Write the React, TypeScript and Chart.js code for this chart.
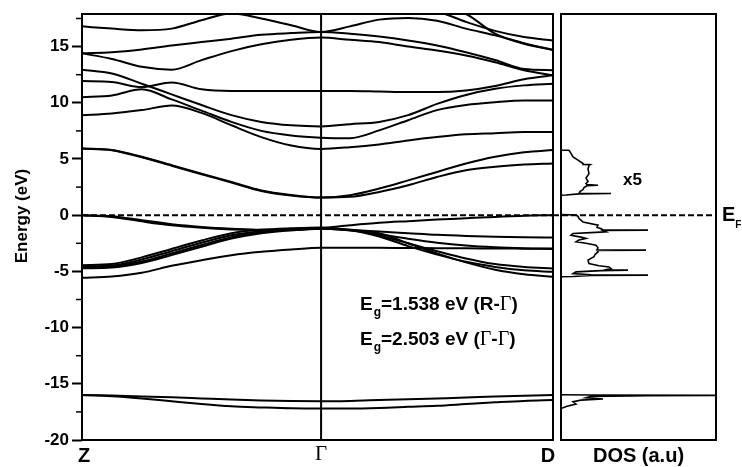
import React, { useEffect, useRef } from "react";
import { Chart, registerables } from "chart.js";

Chart.register(...registerables);

// ---- k-path (Z -> Γ -> D) ----
const K_PATH = [0, 0.125, 0.25, 0.375, 0.5, 0.625, 0.75, 0.875, 1.0, 1.121, 1.243, 1.364, 1.485, 1.606, 1.728, 1.849, 1.97];
const HS_K = [0, 1.0, 1.97];
const HS_LABELS = ["Z", "Γ", "D"];

// ---- energy axis ----
const Y_MIN = -20;
const Y_MAX = 17.9;
const Y_MAJOR = [-20, -15, -10, -5, 0, 5, 10, 15];
const Y_MINOR = [-17.5, -12.5, -7.5, -2.5, 2.5, 7.5, 12.5, 17.5];
const FERMI = 0;

// ---- band energies (eV) at K_PATH ----
const CONDUCTION_BANDS = [
  [19.2, 19.2, 19.0, 18.8, 18.6, 18.5, 18.5, 18.6, 18.7, 18.6, 18.5, 18.3, 18.1, 17.2, 16.4, 15.85, 15.55],
  [20.0, 20.0, 20.0, 19.8, 19.6, 19.5, 19.4, 19.4, 19.4, 19.3, 19.2, 19.0, 18.6, 17.9, 16.15, 15.25, 14.7],
  [16.8, 16.6, 16.45, 16.6, 17.35, 17.95, 17.5, 16.9, 16.3, 16.8, 17.4, 17.55, 17.3, 16.6, 16.0, 15.3, 14.7],
  [14.4, 14.5, 14.75, 15.1, 15.4, 15.7, 16.05, 16.2, 16.3, 16.15, 15.9, 15.55, 15.1, 14.5, 13.8, 13.0, 12.9],
  [14.4, 13.9, 13.2, 12.95, 13.8, 14.6, 15.2, 15.6, 15.8, 15.6, 15.4, 15.0, 14.65, 14.2, 13.6, 12.9, 12.45],
  [12.95, 12.6, 11.7, 10.75, 9.8, 8.9, 8.3, 8.0, 7.9, 8.1, 8.3, 8.9, 9.9, 10.7, 11.25, 11.55, 11.7],
  [11.94, 11.85, 11.4, 11.8, 11.2, 11.05, 11.05, 11.05, 11.05, 11.05, 11.0, 10.95, 10.95, 11.1, 11.5, 12.1, 12.45],
  [10.5, 10.65, 11.2, 10.3, 9.3, 8.3, 7.5, 7.1, 6.9, 6.85, 7.55, 8.45, 9.35, 9.8, 10.05, 10.2, 10.2],
  [8.9, 9.05, 9.35, 9.75, 9.1, 8.0, 6.95, 6.2, 5.9, 6.05, 6.3, 6.65, 6.95, 7.2, 7.3, 7.4, 7.4],
  [5.93, 5.8, 5.2, 4.45, 3.7, 2.95, 2.2, 1.8, 1.57, 1.78, 2.37, 3.1, 3.85, 4.6, 5.2, 5.6, 5.8],
  [5.93, 5.78, 5.15, 4.4, 3.65, 2.9, 2.15, 1.75, 1.57, 1.63, 2.07, 2.67, 3.4, 4.0, 4.3, 4.5, 4.6],
];

const VALENCE_BANDS = [
  [0, -0.1, -0.45, -0.8, -1.04, -1.2, -1.3, -1.3, -1.15, -0.9, -0.68, -0.53, -0.39, -0.27, -0.15, -0.04, 0],
  [0, -0.15, -0.55, -0.9, -1.12, -1.27, -1.35, -1.33, -1.2, -1.3, -1.45, -1.6, -1.75, -1.85, -1.92, -1.97, -1.99],
  [-4.45, -4.35, -3.75, -3.0, -2.25, -1.6, -1.3, -1.17, -1.1, -1.35, -1.7, -2.1, -2.45, -2.7, -2.85, -2.93, -2.96],
  [-4.55, -4.48, -3.95, -3.2, -2.45, -1.78, -1.42, -1.23, -1.15, -1.3, -1.8, -2.5, -3.2, -3.85, -4.35, -4.6, -4.74],
  [-4.65, -4.58, -4.12, -3.4, -2.65, -1.95, -1.52, -1.28, -1.17, -1.35, -1.9, -2.75, -3.5, -4.15, -4.6, -4.9, -5.04],
  [-4.72, -4.66, -4.25, -3.55, -2.8, -2.08, -1.6, -1.33, -1.2, -1.35, -1.6, -2.5, -3.4, -4.2, -4.85, -5.25, -5.48],
  [-5.57, -5.45, -5.12, -4.5, -4.0, -3.56, -3.26, -3.05, -2.9, -2.9, -2.9, -2.92, -2.93, -2.95, -2.96, -2.98, -3.0],
];

const SEMICORE_BANDS = [
  [-16.0, -16.05, -16.12, -16.2, -16.3, -16.4, -16.48, -16.53, -16.55, -16.52, -16.45, -16.38, -16.3, -16.22, -16.13, -16.06, -16.0],
  [-16.0, -16.1, -16.3, -16.55, -16.8, -17.0, -17.1, -17.18, -17.2, -17.2, -17.15, -17.05, -16.95, -16.8, -16.65, -16.52, -16.45],
];

// ---- DOS (a.u.) ----
const DOS_X_MAX = 155;
const DOS_CB_E = [5.78, 5.78, 5.5, 5.19, 4.9, 4.6, 4.52, 4.5, 4.45, 4.1, 3.7, 3.3, 3.0, 2.82, 2.72, 2.67, 2.62, 2.45, 2.28, 2.1, 1.95, 1.93, 1.9, 1.8, 1.78];
const DOS_CB_V = [0, 8, 10, 12, 17, 22, 22, 29, 28, 27, 28, 25, 27, 25, 26, 37, 26, 23, 22, 19, 18, 50, 18, 5, 0];
const DOS_VB_E = [0.05, 0.02, -0.1, -0.3, -0.6, -0.89, -1.1, -1.19, -1.3, -1.33, -1.36, -1.48, -1.55, -1.63, -1.78, -1.95, -2.07, -2.2, -2.37, -2.5, -2.67, -2.9, -3.08, -3.11, -3.14, -3.26, -3.5, -3.7, -4.0, -4.3, -4.5, -4.6, -4.75, -4.85, -4.89, -4.93, -5.04, -5.19, -5.3, -5.33, -5.36, -5.45, -5.48];
const DOS_VB_V = [0, 15, 17, 18, 22, 37, 36, 40, 42, 87, 42, 45, 30, 12, 10, 20, 25, 18, 15, 25, 35, 37, 36, 85, 36, 37, 34, 33, 27, 28, 38, 48, 50, 45, 67, 40, 15, 12, 30, 87, 30, 12, 0];
const DOS_SC_E = [-15.97, -16.0, -16.03, -16.05, -16.08, -16.12, -16.25, -16.35, -16.45, -16.6, -16.8, -17.0, -17.2];
const DOS_SC_V = [0, 30, 160, 87, 70, 30, 25, 42, 20, 12, 15, 6, 0];

// ---- annotations ----
const GAP_TEXTS = ["=1.538 eV (R-Γ)", "=2.503 eV (Γ-Γ)"];
const SCALE_NOTE = "x5";
const DOS_LABEL = "DOS (a.u)";
const Y_TITLE = "Energy (eV)";

const SANS = '"Liberation Sans", Arial, Helvetica, sans-serif';
const SERIF = '"Liberation Serif", "Times New Roman", serif';

function drawRich(ctx: CanvasRenderingContext2D, x: number, y: number, text: string, size: number) {
  let cx = x;
  for (const ch of Array.from(text)) {
    if (ch === "Γ") {
      ctx.font = `${size + 1}px ${SERIF}`;
    } else {
      ctx.font = `bold ${size}px ${SANS}`;
    }
    ctx.fillText(ch, cx, y);
    cx += ctx.measureText(ch).width;
  }
  return cx;
}

const bandDataset = (b: number[]) => ({
  data: K_PATH.map((k, i) => ({ x: k, y: b[i] })),
  borderColor: "#000",
  borderWidth: 2,
  pointRadius: 0,
  fill: false,
  cubicInterpolationMode: "monotone" as const,
});

const dosDataset = (es: number[], vs: number[]) => ({
  data: es.map((e, i) => ({ x: vs[i], y: e })),
  borderColor: "#000",
  borderWidth: 1.6,
  pointRadius: 0,
  showLine: true,
  fill: false,
  tension: 0,
});

export default function App() {
  const mainRef = useRef<HTMLCanvasElement>(null);
  const dosRef = useRef<HTMLCanvasElement>(null);

  useEffect(() => {
    const mainDecor = {
      id: "mainDecor",
      afterDatasetsDraw(chart: any) {
        const { ctx, chartArea: a, scales } = chart;
        const xs = scales.x;
        const ys = scales.y;
        ctx.save();
        ctx.strokeStyle = "#000";
        ctx.fillStyle = "#000";
        ctx.lineWidth = 2;
        const gx = xs.getPixelForValue(HS_K[1]);
        ctx.beginPath();
        ctx.moveTo(gx, a.top);
        ctx.lineTo(gx, a.bottom);
        ctx.stroke();
        ctx.strokeRect(a.left, a.top, a.right - a.left, a.bottom - a.top);
        // minor ticks
        ctx.lineWidth = 1.5;
        for (const v of Y_MINOR) {
          const y = ys.getPixelForValue(v);
          ctx.beginPath();
          ctx.moveTo(a.left - 6, y);
          ctx.lineTo(a.left, y);
          ctx.stroke();
        }
        // y title
        ctx.save();
        ctx.translate(22, 216);
        ctx.rotate(-Math.PI / 2);
        ctx.textAlign = "center";
        ctx.textBaseline = "middle";
        ctx.font = `bold 17px ${SANS}`;
        ctx.fillText(Y_TITLE, 0, 0);
        ctx.restore();
        // k-point labels
        ctx.textBaseline = "alphabetic";
        ctx.textAlign = "center";
        HS_K.forEach((k, i) => {
          let x = xs.getPixelForValue(k);
          if (i === 0) x += 2;
          if (i === HS_K.length - 1) x -= 5;
          if (HS_LABELS[i] === "Γ") {
            ctx.font = `21px ${SERIF}`;
            ctx.fillText(HS_LABELS[i], x, 460);
          } else {
            ctx.font = `bold 20px ${SANS}`;
            ctx.fillText(HS_LABELS[i], x, 462);
          }
        });
        // band gap annotations
        ctx.textAlign = "left";
        GAP_TEXTS.forEach((t, i) => {
          const base = 310 + i * 35;
          ctx.font = `bold 19px ${SANS}`;
          ctx.fillText("E", 360, base);
          const ew = ctx.measureText("E").width;
          ctx.font = `bold 12px ${SANS}`;
          ctx.fillText("g", 360 + ew + 1, base + 6);
          const gw = ctx.measureText("g").width;
          drawRich(ctx, 360 + ew + gw + 1, base, t, 19);
        });
        ctx.restore();
      },
    };

    const dosDecor = {
      id: "dosDecor",
      afterDatasetsDraw(chart: any) {
        const { ctx, chartArea: a, scales } = chart;
        const ys = scales.y;
        ctx.save();
        ctx.strokeStyle = "#000";
        ctx.fillStyle = "#000";
        ctx.lineWidth = 2;
        ctx.strokeRect(a.left, a.top, a.right - a.left, a.bottom - a.top);
        // Fermi level continuation through gap and DOS panel
        const fy = ys.getPixelForValue(FERMI);
        ctx.setLineDash([6, 3]);
        ctx.beginPath();
        ctx.moveTo(0, fy);
        ctx.lineTo(a.right, fy);
        ctx.stroke();
        ctx.setLineDash([]);
        // E_F label
        ctx.textAlign = "left";
        ctx.textBaseline = "alphabetic";
        ctx.font = `bold 20px ${SANS}`;
        ctx.fillText("E", a.right + 6, fy + 6);
        const ew = ctx.measureText("E").width;
        ctx.font = `bold 10px ${SANS}`;
        ctx.fillText("F", a.right + 6 + ew, fy + 13);
        // x5
        ctx.font = `bold 17px ${SANS}`;
        ctx.fillText(SCALE_NOTE, a.left + 62, 185);
        // DOS label
        ctx.textAlign = "center";
        ctx.font = `bold 20px ${SANS}`;
        ctx.fillText(DOS_LABEL, (a.left + a.right) / 2, 462);
        ctx.restore();
      },
    };

    const fermiLine = {
      data: [
        { x: HS_K[0], y: FERMI },
        { x: HS_K[2], y: FERMI },
      ],
      borderColor: "#000",
      borderWidth: 2,
      borderDash: [6, 3],
      pointRadius: 0,
      fill: false,
    };

    const main = new Chart(mainRef.current as HTMLCanvasElement, {
      type: "line",
      data: {
        datasets: [
          ...CONDUCTION_BANDS.map(bandDataset),
          ...VALENCE_BANDS.map(bandDataset),
          ...SEMICORE_BANDS.map(bandDataset),
          fermiLine,
        ] as any,
      },
      options: {
        animation: false,
        responsive: true,
        maintainAspectRatio: false,
        events: [],
        layout: { padding: { left: 0, right: 8, top: 14, bottom: 27 } },
        plugins: { legend: { display: false }, tooltip: { enabled: false } },
        scales: {
          x: { type: "linear", min: HS_K[0], max: HS_K[2], display: false },
          y: {
            type: "linear",
            min: Y_MIN,
            max: Y_MAX,
            afterBuildTicks: (s: any) => {
              s.ticks = Y_MAJOR.map((v) => ({ value: v }));
            },
            afterFit: (s: any) => {
              s.width = 82;
            },
            ticks: {
              color: "#000",
              font: { family: SANS, size: 17, weight: "bold" },
              padding: 3,
              callback: (v: any) => String(v),
            },
            grid: { drawOnChartArea: false, tickLength: 10, tickWidth: 2, tickColor: "#000" },
            border: { display: false },
            title: { display: false },
          },
        },
      } as any,
      plugins: [mainDecor],
    });

    const dos = new Chart(dosRef.current as HTMLCanvasElement, {
      type: "scatter",
      data: {
        datasets: [
          dosDataset(DOS_CB_E, DOS_CB_V),
          dosDataset(DOS_VB_E, DOS_VB_V),
          dosDataset(DOS_SC_E, DOS_SC_V),
        ] as any,
      },
      options: {
        animation: false,
        responsive: true,
        maintainAspectRatio: false,
        events: [],
        layout: { padding: { left: 8, right: 26, top: 14, bottom: 27 } },
        plugins: { legend: { display: false }, tooltip: { enabled: false } },
        scales: {
          x: { type: "linear", min: 0, max: DOS_X_MAX, display: false },
          y: { type: "linear", min: Y_MIN, max: Y_MAX, display: false },
        },
      } as any,
      plugins: [dosDecor],
    });

    return () => {
      main.destroy();
      dos.destroy();
    };
  }, []);

  return (
    <div style={{ position: "fixed", left: 0, top: 0, width: 742, height: 467, background: "#fff" }}>
      <div style={{ position: "absolute", left: 0, top: 0, width: 561, height: 467 }}>
        <canvas ref={mainRef} />
      </div>
      <div style={{ position: "absolute", left: 553, top: 0, width: 189, height: 467 }}>
        <canvas ref={dosRef} />
      </div>
    </div>
  );
}
